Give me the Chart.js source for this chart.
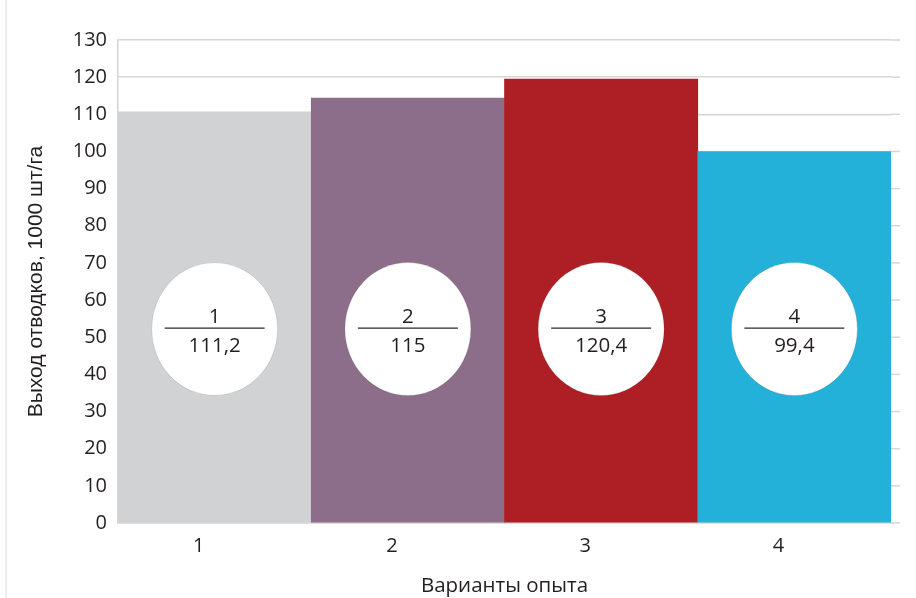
<!DOCTYPE html>
<html>
<head>
<meta charset="utf-8">
<script src="https://cdn.jsdelivr.net/npm/chart.js@4"></script>
<style>
  html, body { margin: 0; padding: 0; background: #fff; }
  #wrap { position: relative; width: 916px; height: 598px; }
  #edge { position: absolute; left: 5px; top: 0; width: 2px; height: 598px; background: #ededed; }
</style>
</head>
<body>
<div id="wrap">
  <div id="edge"></div>
  <canvas id="chart" width="916" height="598"></canvas>
</div>
<script>
// data
const variants = ['1', '2', '3', '4'];
const yieldValues = [110.7, 114.4, 119.5, 100];
const circleTop = ['1', '2', '3', '4'];
const circleBottom = ['111,2', '115', '120,4', '99,4'];
const barColors = ['#d1d2d4', '#8c6d8a', '#ae1f25', '#23b0d9'];
const circleLevel = 52.2;

const numFont = '"Open Sans", "Noto Sans", sans-serif';

// white circles with "variant / value" inside each bar
const circlesPlugin = {
  id: 'circles',
  afterDatasetsDraw(chart) {
    const ctx = chart.ctx;
    const y = chart.scales.y.getPixelForValue(circleLevel);
    chart.getDatasetMeta(0).data.forEach((bar, i) => {
      const x = bar.x;
      ctx.save();
      ctx.beginPath();
      ctx.ellipse(x, y, 63, 66.5, 0, 0, Math.PI * 2);
      ctx.fillStyle = '#fff';
      ctx.fill();
      ctx.lineWidth = 1;
      ctx.strokeStyle = 'rgba(0,0,0,0.12)';
      ctx.stroke();

      ctx.beginPath();
      ctx.moveTo(x - 50, y - 1);
      ctx.lineTo(x + 50, y - 1);
      ctx.lineWidth = 1.3;
      ctx.strokeStyle = '#2a2a2a';
      ctx.stroke();

      ctx.fillStyle = '#231f20';
      ctx.font = '20.5px ' + numFont;
      ctx.textAlign = 'center';
      ctx.textBaseline = 'alphabetic';
      ctx.fillText(circleTop[i], x, y - 6);
      ctx.fillText(circleBottom[i], x, y + 23);
      ctx.restore();
    });
  }
};

// gridlines run a little past the last bar
const gridTailPlugin = {
  id: 'gridTail',
  beforeDatasetsDraw(chart) {
    const ctx = chart.ctx;
    const ys = chart.scales.y;
    const right = chart.chartArea.right;
    ctx.save();
    ctx.strokeStyle = '#d6d6d6';
    ctx.lineWidth = 1.5;
    ys.ticks.forEach(t => {
      const py = ys.getPixelForValue(t.value);
      ctx.beginPath();
      ctx.moveTo(right, py);
      ctx.lineTo(right + 9, py);
      ctx.stroke();
    });
    ctx.restore();
  }
};

new Chart(document.getElementById('chart'), {
  type: 'bar',
  data: {
    labels: variants,
    datasets: [{
      data: yieldValues,
      backgroundColor: barColors,
      borderWidth: 0,
      categoryPercentage: 1,
      barPercentage: 1
    }]
  },
  options: {
    responsive: false,
    animation: false,
    layout: { padding: { top: 40, right: 25, left: 0, bottom: 0 } },
    plugins: { legend: { display: false }, tooltip: { enabled: false } },
    scales: {
      x: {
        grid: { display: false, drawTicks: false },
        border: { display: true, color: '#d6d6d6', width: 1.5 },
        ticks: { color: '#231f20', font: { family: numFont, size: 20 }, padding: 11, labelOffset: -16 },
        title: {
          display: true, text: 'Варианты опыта', color: '#231f20',
          font: { family: numFont, size: 20.5 }, padding: { top: 6, bottom: 0 }
        },
        afterFit: s => { s.height = 75; }
      },
      y: {
        min: 0, max: 130,
        ticks: { stepSize: 10, color: '#231f20', font: { family: numFont, size: 20 }, padding: 11 },
        grid: { color: '#d6d6d6', lineWidth: 1.5, drawTicks: false },
        border: { display: true, color: '#d6d6d6', width: 1.5 },
        title: {
          display: true, text: 'Выход отводков, 1000 шт/га', color: '#231f20',
          font: { family: '"Liberation Sans", Arial, sans-serif', size: 21 }, padding: { top: 24, bottom: 0 }
        },
        afterFit: s => { s.width = 118; }
      }
    }
  },
  plugins: [gridTailPlugin, circlesPlugin]
});
</script>
</body>
</html>
